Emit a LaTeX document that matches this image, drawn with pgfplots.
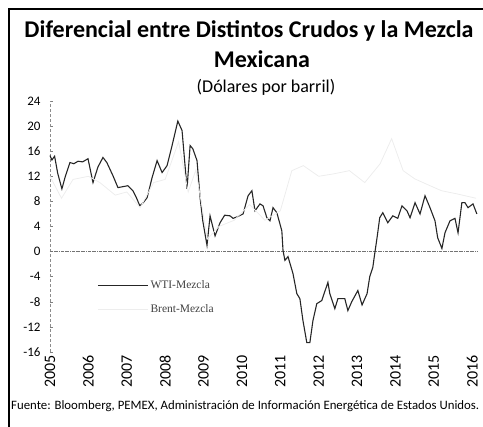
\documentclass[border=0pt]{standalone}
\usepackage{pgfplots}
\pgfplotsset{compat=1.18}
\usepackage{fontspec}
\setmainfont{Carlito}
\newfontfamily\legserif{Liberation Serif}
\usepackage{graphicx}

\pgfplotstableread{
x y
2005.00 15.3
2005.05 14.6
2005.12 15.2
2005.20 12.5
2005.31 10.0
2005.40 12.0
2005.52 14.2
2005.62 14.0
2005.73 14.4
2005.85 14.3
2005.99 14.8
2006.12 11.0
2006.25 13.5
2006.38 15.0
2006.48 14.2
2006.64 12.1
2006.77 10.2
2007.03 10.5
2007.16 9.7
2007.25 8.6
2007.34 7.3
2007.43 7.8
2007.53 8.6
2007.66 11.8
2007.79 14.5
2007.92 12.6
2008.05 13.7
2008.18 16.9
2008.28 19.5
2008.33 20.8
2008.44 19.3
2008.57 10.0
2008.65 16.9
2008.72 16.4
2008.83 14.5
2008.91 8.6
2008.98 4.9
2009.09 1.0
2009.17 5.7
2009.30 2.5
2009.43 4.6
2009.55 5.8
2009.69 5.7
2009.77 5.3
2009.90 5.6
2010.03 6.0
2010.16 8.9
2010.26 9.7
2010.34 6.5
2010.47 7.6
2010.55 7.3
2010.65 5.4
2010.73 4.9
2010.81 7.0
2010.91 6.2
2011.04 3.3
2011.07 0.2
2011.12 -1.4
2011.20 -0.8
2011.33 -3.5
2011.43 -6.7
2011.51 -7.5
2011.59 -11.0
2011.69 -14.5
2011.77 -14.5
2011.85 -11.0
2011.95 -8.3
2012.08 -7.8
2012.24 -4.9
2012.29 -6.7
2012.42 -9.1
2012.50 -7.5
2012.68 -7.5
2012.76 -9.4
2012.86 -8.0
2013.02 -6.2
2013.13 -8.5
2013.26 -6.7
2013.33 -4.0
2013.41 -2.5
2013.46 -0.3
2013.52 2.2
2013.59 5.4
2013.67 6.2
2013.80 4.6
2013.93 5.7
2014.06 5.3
2014.17 7.3
2014.30 6.5
2014.38 5.4
2014.51 7.8
2014.64 6.0
2014.77 8.9
2014.90 7.0
2015.03 4.9
2015.10 2.2
2015.21 0.5
2015.29 3.0
2015.42 4.9
2015.55 5.3
2015.63 3.0
2015.73 7.8
2015.81 7.8
2015.89 7.0
2016.02 7.6
2016.12 6.0
}\wti

\pgfplotstableread{
x y
2005.00 12.0
2005.30 8.5
2005.60 11.5
2006.00 12.0
2006.30 11.0
2006.70 9.0
2007.00 9.5
2007.35 7.0
2007.70 11.0
2008.00 11.5
2008.35 17.5
2008.60 9.5
2008.80 13.0
2009.10 2.0
2009.40 4.0
2009.80 5.0
2010.20 7.5
2010.60 5.0
2011.00 6.5
2011.30 12.9
2011.60 13.7
2012.00 12.0
2012.40 12.4
2012.80 12.9
2013.20 11.0
2013.60 14.0
2013.90 18.0
2014.20 12.9
2014.50 11.6
2014.90 10.5
2015.20 9.7
2015.60 9.2
2016.10 8.5
}\brent

\begin{document}
\begin{tikzpicture}[x=1pt,y=1pt]
\useasboundingbox (0,0) rectangle (483,-427);
\draw[line width=1.8pt] (9,-427) -- (9,-9) -- (483,-9);
\node[font=\bfseries\fontsize{24}{26}\selectfont, inner sep=0pt] at (249,-31) {Diferencial entre Distintos Crudos y la Mezcla};
\node[font=\bfseries\fontsize{24}{26}\selectfont, inner sep=0pt] at (262,-59) {Mexicana};
\node[font=\fontsize{18}{20}\selectfont, inner sep=0pt] at (266,-87) {(Dólares por barril)};
\node[anchor=west, font=\fontsize{12.8}{14}\selectfont, inner sep=0pt] at (11,-406) {Fuente: Bloomberg, PEMEX, Administración de Información Energética de Estados Unidos.};
\begin{axis}[
  at={(50pt,-352pt)}, anchor=south west,
  scale only axis, width=428pt, height=251pt,
  xmin=2005, xmax=2016.15, ymin=-16, ymax=24,
  axis lines=left,
  axis line style={-},
  x axis line style={draw=none},
  y axis line style={densely dashed, black!45, line width=0.6pt},
  xtick={2005,2006,...,2016},
  xticklabels={2005,2006,2007,2008,2009,2010,2011,2012,2013,2014,2015,2016},
  xticklabel style={rotate=90, anchor=east, font=\fontsize{16}{17}\selectfont},
  major x tick style={draw=none},
  ytick={-16,-12,-8,-4,0,4,8,12,16,20,24},
  yticklabels={-16,-12,-8,-4,0,4,8,12,16,20,24},
  yticklabel style={font=\fontsize{13}{14}\selectfont, xshift=-6pt},
  /pgf/number format/assume math mode=true,
  major y tick style={black!50, line width=0.5pt},
  tick align=inside, major tick length=3pt,
  legend style={at={(axis cs:2006.23,-4.3)}, anchor=north west, draw=none, fill=none,
    font=\legserif\fontsize{11.5}{13}\selectfont, row sep=10pt, inner sep=0pt,
    text=black!75},
  legend cell align=left,
  legend image code/.code={\draw[#1] (0pt,0pt) -- (50pt,0pt);},
  clip=false,
]
\draw[densely dash dot, black!55, line width=0.6pt] (axis cs:2005,0) -- (axis cs:2016.15,0);
\addplot[black!85, line width=1.1pt] table[x=x,y=y] {\wti};
\addlegendentry{WTI-Mezcla}
\addplot[black!7, line width=0.8pt] table[x=x,y=y] {\brent};
\addlegendentry{Brent-Mezcla}
\end{axis}
\end{tikzpicture}
\end{document}
